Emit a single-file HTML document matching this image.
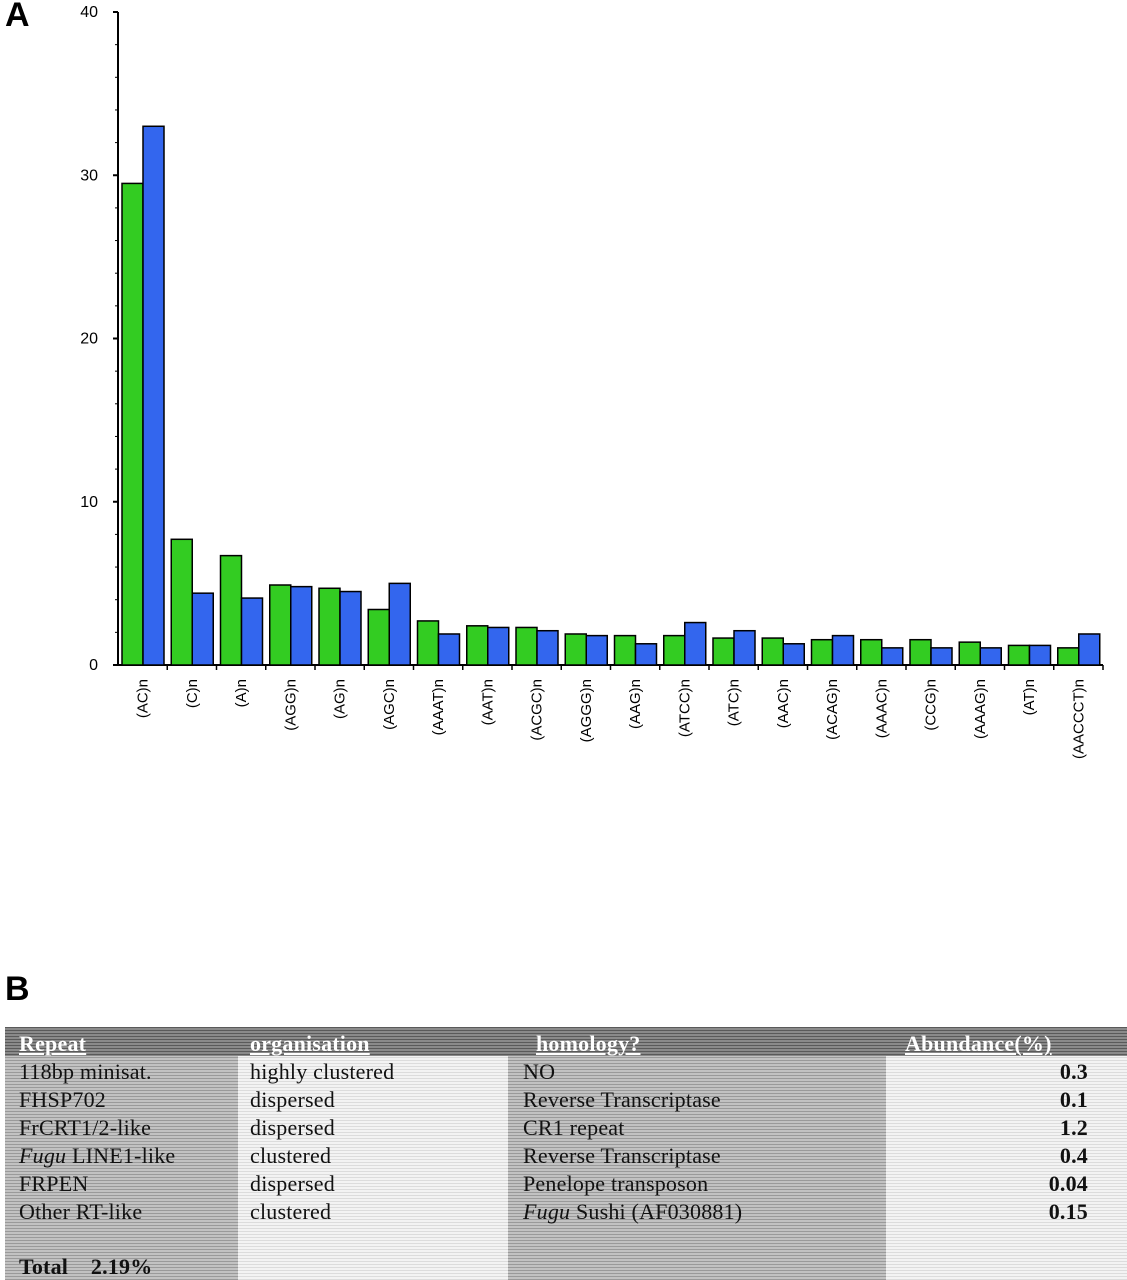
<!DOCTYPE html>
<html><head><meta charset="utf-8"><style>
body{margin:0;width:1127px;height:1280px;background:#fff;position:relative;overflow:hidden;font-family:"Liberation Sans",sans-serif}
.lbl{position:absolute;font-weight:bold;font-size:34px}
#tbl{position:absolute;left:5px;top:1027px;width:1122px;height:253px}
.col{position:absolute;top:0;height:253px}
.gray{background:repeating-linear-gradient(#9a9a9a 0 1px,#c2c2c2 1px 3px)}
.light{background:repeating-linear-gradient(#dcdcdc 0 1px,#f3f3f3 1px 3px)}
.hdr{position:absolute;left:0;top:0;width:1122px;height:29px;background:repeating-linear-gradient(#5a5a5a 0 1px,#8a8a8a 1px 3px)}
.t{position:absolute;font-family:"Liberation Serif",serif;font-size:22px;color:#111;white-space:nowrap;letter-spacing:0.2px}
.h{color:#fff;text-decoration:underline;font-weight:bold}
</style></head><body>
<div class="lbl" style="left:5px;top:-4px">A</div>
<div class="lbl" style="left:5px;top:970px">B</div>
<svg id="chart" width="1127" height="800" style="position:absolute;left:0;top:0"></svg>
<div id="tbl">
<div class="col gray" style="left:0;width:233px"></div>
<div class="col light" style="left:233px;width:270px"></div>
<div class="col gray" style="left:503px;width:378px"></div>
<div class="col light" style="left:881px;width:241px"></div>
<div class="hdr"></div>
<div class="t h" style="left:14px;top:4px">Repeat</div>
<div class="t h" style="left:245px;top:4px">organisation</div>
<div class="t h" style="left:531px;top:4px">homology?</div>
<div class="t h" style="left:900px;top:4px">Abundance(%)</div>
<div id="rows"></div>
<div class="t" style="left:14px;top:227px;font-weight:bold">Total&nbsp;&nbsp;&nbsp;&nbsp;2.19%</div>
</div>
<script>
const categories=["(AC)n","(C)n","(A)n","(AGG)n","(AG)n","(AGC)n","(AAAT)n","(AAT)n","(ACGC)n","(AGGG)n","(AAG)n","(ATCC)n","(ATC)n","(AAC)n","(ACAG)n","(AAAC)n","(CCG)n","(AAAG)n","(AT)n","(AACCCT)n"];
const greenValues=[29.5,7.7,6.7,4.9,4.7,3.4,2.7,2.4,2.3,1.9,1.8,1.8,1.65,1.65,1.55,1.55,1.55,1.4,1.2,1.05];
const blueValues=[33.0,4.4,4.1,4.8,4.5,5.0,1.9,2.3,2.1,1.8,1.3,2.6,2.1,1.3,1.8,1.05,1.05,1.05,1.2,1.9];
const yTicks=[0,10,20,30,40];
const NS="http://www.w3.org/2000/svg";
const svg=document.getElementById('chart');
const y0=665,y40=12,x0=118,xEnd=1103;
const yScale=v=>y0-(y0-y40)*v/40;
const gw=(xEnd-x0)/categories.length;
const xScale=i=>x0+i*gw;
function mk(t,a){const e=document.createElementNS(NS,t);for(const k in a)e.setAttribute(k,a[k]);svg.appendChild(e);return e;}
let ax=mk('line',{x1:x0,y1:y40,x2:x0,y2:y0,stroke:'#000','stroke-width':2});


let xa=mk('line',{x1:x0,y1:y0,x2:xEnd,y2:y0,stroke:'#000','stroke-width':2});


yTicks.forEach(v=>{const y=yScale(v);
mk('line',{x1:x0-5,y1:y,x2:x0,y2:y,stroke:'#000','stroke-width':2});
for(let m=1;m<5&&v<40;m++){const ym=yScale(v+m*2);mk('line',{x1:x0-3,y1:ym,x2:x0,y2:ym,stroke:'#000','stroke-width':1});}
const t=mk('text',{x:x0-20,y:y+5,'text-anchor':'end','font-size':16,'font-family':'Liberation Sans, sans-serif'});t.textContent=v;


});
categories.forEach((c,i)=>{const gx=xScale(i);
mk('line',{x1:gx+gw,y1:y0,x2:gx+gw,y2:y0+5,stroke:'#000','stroke-width':1.5});
const bw=21;
const g=mk('rect',{x:gx+4,y:yScale(greenValues[i]),width:bw,height:y0-yScale(greenValues[i]),fill:'#33cc22',stroke:'#000','stroke-width':1.5});


const b=mk('rect',{x:gx+4+bw,y:yScale(blueValues[i]),width:bw,height:y0-yScale(blueValues[i]),fill:'#3366ee',stroke:'#000','stroke-width':1.5});


const cx=gx+gw/2+5,cy=y0+14;
const t=mk('text',{x:cx,y:cy,'text-anchor':'end','font-size':15,'font-family':'Liberation Sans, sans-serif',transform:`rotate(-90 ${cx} ${cy})`});t.textContent=c;


});
const rows=[["118bp minisat.","highly clustered","NO","0.3"],["FHSP702","dispersed","Reverse Transcriptase","0.1"],["FrCRT1/2-like","dispersed","CR1 repeat","1.2"],["<i>Fugu</i> LINE1-like","clustered","Reverse Transcriptase","0.4"],["FRPEN","dispersed","Penelope transposon","0.04"],["Other RT-like","clustered","<i>Fugu</i> Sushi (AF030881)","0.15"]];
const R=document.getElementById('rows');
rows.forEach((r,i)=>{const top=32+i*28;
R.insertAdjacentHTML('beforeend',`<div class="t" style="left:14px;top:${top}px">${r[0]}</div><div class="t" style="left:245px;top:${top}px">${r[1]}</div><div class="t" style="left:518px;top:${top}px">${r[2]}</div><div class="t" style="right:39px;top:${top}px;font-weight:bold">${r[3]}</div>`);});
</script>
</body></html>
